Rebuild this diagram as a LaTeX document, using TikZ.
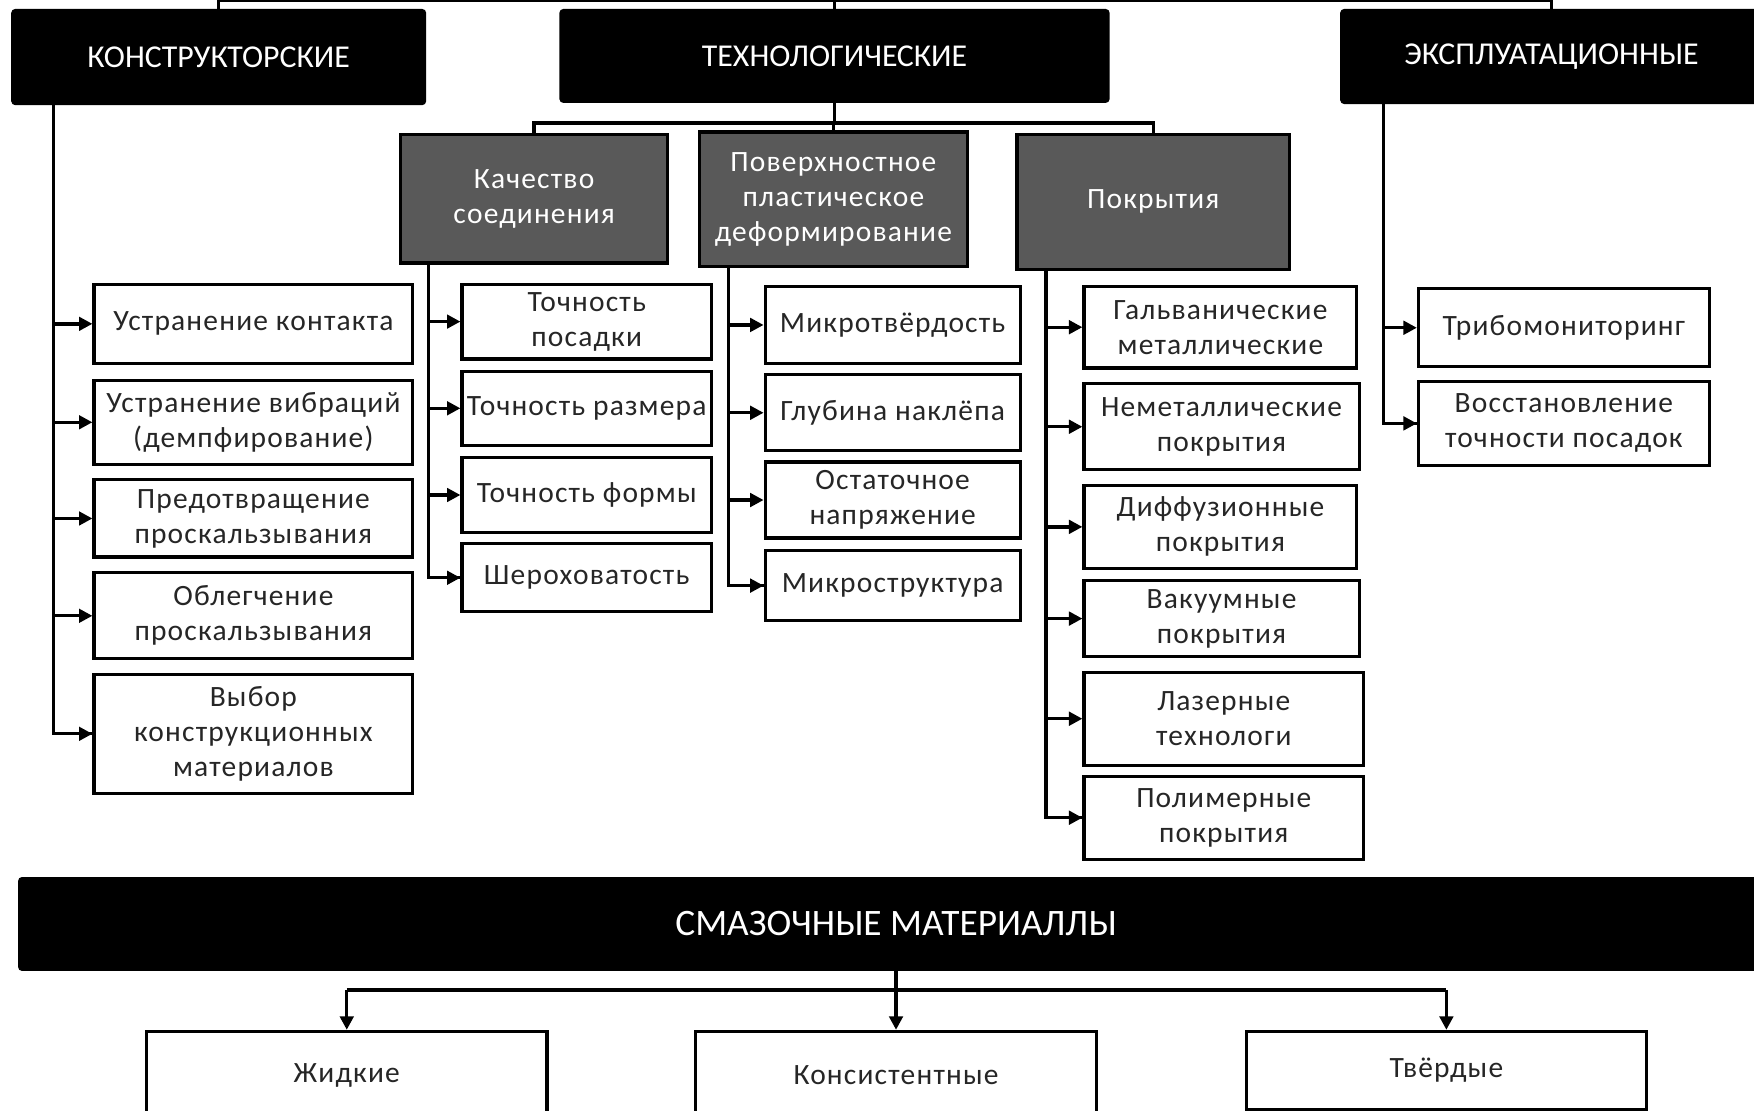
\documentclass[tikz,border=0pt]{standalone}
\usepackage{fontspec}
\setmainfont{Carlito}
\newfontfamily\spacedfont{Carlito}[LetterSpace=4]
\usepackage{xcolor}
\usetikzlibrary{positioning,arrows.meta}
\definecolor{boxgray}{RGB}{89,89,89}
\definecolor{inkgray}{RGB}{38,38,38}

\begin{document}
\begin{tikzpicture}[
    x=0.02cm, y=-0.02cm,
    headbox/.style={fill=black, text=white, rounded corners=2pt, inner sep=0pt, align=center, font=\fontsize{16.2}{19}\selectfont},
    groupbox/.style={draw, fill=boxgray, line width=1.7pt, text=white, inner sep=0pt, align=center, font=\spacedfont\fontsize{15}{17.8}\selectfont},
    itembox/.style={draw, fill=white, line width=1.6pt, text=inkgray, inner sep=0pt, align=center, font=\spacedfont\fontsize{15}{17.8}\selectfont},
    wire/.style={line width=1.7pt},
    feed/.style={wire, -{Triangle[length=0.24cm, width=0.24cm]}}
]
\useasboundingbox (0,0) rectangle (1568,993);

% Top row: three main groups
\node[headbox, minimum width=7.42cm, minimum height=1.72cm] (konstr) at (195.5,51) {КОНСТРУКТОРСКИЕ};
\node[headbox, minimum width=9.84cm, minimum height=1.68cm] (tekhn) at (746,50) {ТЕХНОЛОГИЧЕСКИЕ};
\node[headbox, minimum width=7.56cm, minimum height=1.70cm] (expl) at (1387,50.5) {ЭКСПЛУАТАЦИОННЫЕ};

\coordinate (topbus) at (746,0);
\draw[wire] (konstr.north) |- (topbus) -| (expl.north);
\draw[wire] (tekhn.north) -- (topbus);

% Second row: technological subgroups
\node[groupbox, minimum width=4.78cm, minimum height=2.30cm] (kach) at (477.5,177.5) {Качество\\соединения};
\node[groupbox, minimum width=4.80cm, minimum height=2.40cm] (pov) at (745,178) {Поверхностное\\пластическое\\деформирование};
\node[groupbox, minimum width=4.88cm, minimum height=2.42cm] (pokr) at (1031,180.5) {Покрытия};

\coordinate (tbus) at (746,110);
\draw[wire] (tekhn.south) -- (tbus);
\draw[wire] (kach.north) |- (tbus) -| (pokr.north);
\draw[wire] (pov.north) -- (pov.north |- tbus);

% Design measures
\node[itembox, minimum width=5.70cm, minimum height=1.42cm] (k1) at (226.5,289.5) {Устранение контакта};
\node[itembox, minimum width=5.70cm, minimum height=1.50cm] (k2) at (226.5,377.5) {Устранение вибраций\\(демпфирование)};
\node[itembox, minimum width=5.70cm, minimum height=1.38cm] (k3) at (226.5,463.5) {Предотвращение\\проскальзывания};
\node[itembox, minimum width=5.70cm, minimum height=1.54cm] (k4) at (226.5,550.5) {Облегчение\\проскальзывания};
\node[itembox, minimum width=5.70cm, minimum height=2.12cm] (k5) at (226.5,656) {Выбор\\конструкционных\\материалов};

\coordinate (kspine) at (48,94);
\draw[wire] (kspine) |- (k5.west);
\draw[feed] (kspine |- k1) -- (k1);
\draw[feed] (kspine |- k2) -- (k2);
\draw[feed] (kspine |- k3) -- (k3);
\draw[feed] (kspine |- k4) -- (k4);
\draw[feed] (kspine |- k5) -- (k5);

% Joint quality
\node[itembox, minimum width=4.46cm, minimum height=1.34cm] (q1) at (524.5,287.5) {Точность\\посадки};
\node[itembox, minimum width=4.46cm, minimum height=1.32cm] (q2) at (524.5,365) {Точность размера};
\node[itembox, minimum width=4.46cm, minimum height=1.34cm] (q3) at (524.5,442.5) {Точность формы};
\node[itembox, minimum width=4.46cm, minimum height=1.22cm] (q4) at (524.5,516.5) {Шероховатость};

\coordinate (qspine) at (383,235);
\draw[wire] (qspine) |- (q4.west);
\draw[feed] (qspine |- q1) -- (q1);
\draw[feed] (qspine |- q2) -- (q2);
\draw[feed] (qspine |- q3) -- (q3);
\draw[feed] (qspine |- q4) -- (q4);

% Surface plastic deformation
\node[itembox, minimum width=4.56cm, minimum height=1.38cm] (p1) at (798,290.5) {Микротвёрдость};
\node[itembox, minimum width=4.56cm, minimum height=1.36cm] (p2) at (798,369) {Глубина наклёпа};
\node[itembox, minimum width=4.56cm, minimum height=1.36cm] (p3) at (798,447) {Остаточное\\напряжение};
\node[itembox, minimum width=4.56cm, minimum height=1.26cm] (p4) at (798,523.5) {Микроструктура};

\coordinate (pspine) at (651,238);
\draw[wire] (pspine) |- (p4.west);
\draw[feed] (pspine |- p1) -- (p1);
\draw[feed] (pspine |- p2) -- (p2);
\draw[feed] (pspine |- p3) -- (p3);
\draw[feed] (pspine |- p4) -- (p4);

% Coatings
\node[itembox, minimum width=4.88cm, minimum height=1.46cm] (c1) at (1091,292.5) {Гальванические\\металлические};
\node[itembox, minimum width=4.92cm, minimum height=1.54cm] (c2) at (1092,381.5) {Неметаллические\\покрытия};
\node[itembox, minimum width=4.88cm, minimum height=1.48cm] (c3) at (1091,471) {Диффузионные\\покрытия};
\node[itembox, minimum width=4.92cm, minimum height=1.36cm] (c4) at (1092,553) {Вакуумные\\покрытия};
\node[itembox, minimum width=5.00cm, minimum height=1.66cm] (c5) at (1094,642.5) {Лазерные\\технологи};
\node[itembox, minimum width=5.00cm, minimum height=1.48cm] (c6) at (1094,731) {Полимерные\\покрытия};

\coordinate (cspine) at (935,241);
\draw[wire] (cspine) |- (c6.west);
\draw[feed] (cspine |- c1) -- (c1);
\draw[feed] (cspine |- c2) -- (c2);
\draw[feed] (cspine |- c3) -- (c3);
\draw[feed] (cspine |- c4) -- (c4);
\draw[feed] (cspine |- c5) -- (c5);
\draw[feed] (cspine |- c6) -- (c6);

% Operational measures
\node[itembox, minimum width=5.20cm, minimum height=1.40cm] (e1) at (1398,293) {Трибомониторинг};
\node[itembox, minimum width=5.20cm, minimum height=1.50cm] (e2) at (1398,378.5) {Восстановление\\точности посадок};

\coordinate (espine) at (1237,93);
\draw[wire] (espine) |- (e2.west);
\draw[feed] (espine |- e1) -- (e1);
\draw[feed] (espine |- e2) -- (e2);

% Bottom: lubricants
\node[headbox, minimum width=31.40cm, minimum height=1.68cm, font=\fontsize{19}{22}\selectfont] (smaz) at (801,826) {СМАЗОЧНЫЕ МАТЕРИАЛЛЫ};

\node[itembox, minimum width=7.16cm, minimum height=1.56cm] (l1) at (310,961) {Жидкие};
\node[itembox, minimum width=7.16cm, minimum height=1.56cm] (l2) at (801,961) {Консистентные};
\node[itembox, minimum width=7.16cm, minimum height=1.40cm] (l3) at (1293,957) {Твёрдые};

\coordinate (lbus) at (801,885);
\draw[wire] (smaz.south) -- (lbus);
\draw[wire] (l1.north |- lbus) -- (l3.north |- lbus);
\draw[feed] (l1.north |- lbus) -- (l1);
\draw[feed] (lbus) -- (l2);
\draw[feed] (l3.north |- lbus) -- (l3);

\end{tikzpicture}
\end{document}
